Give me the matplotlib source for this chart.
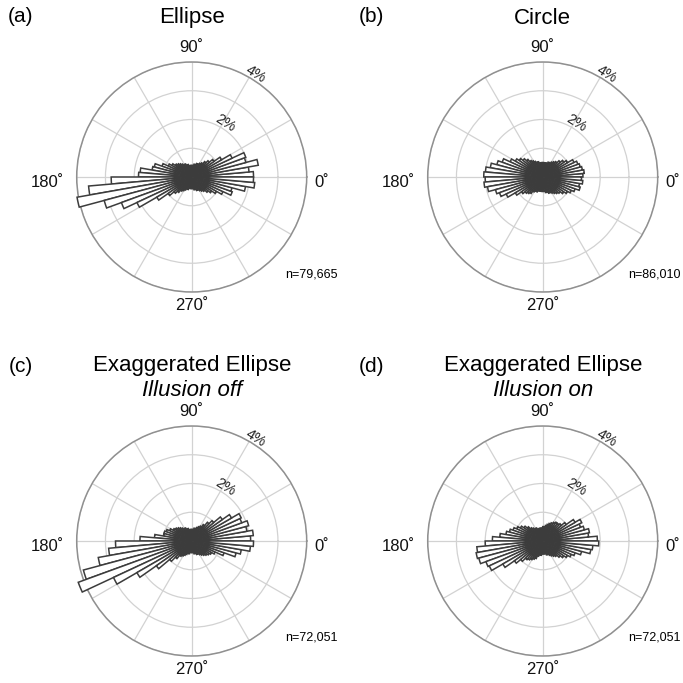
"""Rose plots of movement direction for the four stimulus conditions."""

import matplotlib
matplotlib.use('Agg')
import matplotlib.pyplot as plt
import numpy as np

plt.rcParams['font.family'] = ['Liberation Sans', 'DejaVu Sans']

# Bin centres (degrees), 5 degree bins
bin_centres = [2.5 + 5 * k for k in range(72)]

# Percentage of samples per bin (bins 2.5 .. 357.5)
ellipse = [
    2.15, 2.00, 2.35, 1.95, 2.00, 1.55, 1.20, 0.95, 0.80, 0.70, 0.60, 0.55,
    0.50, 0.50, 0.45, 0.45, 0.40, 0.40, 0.40, 0.40, 0.40, 0.45, 0.45, 0.50,
    0.50, 0.55, 0.60, 0.65, 0.70, 0.80, 0.90, 1.10, 1.35, 1.40, 1.80, 1.85,
    2.80, 3.60, 4.05, 3.15, 2.60, 2.10, 1.40, 1.00, 0.80, 0.70, 0.60, 0.55,
    0.50, 0.45, 0.45, 0.40, 0.40, 0.40, 0.40, 0.40, 0.45, 0.45, 0.50, 0.50,
    0.55, 0.60, 0.65, 0.75, 0.85, 1.00, 1.20, 1.50, 1.45, 1.90, 2.20, 2.15,
]
circle = [
    1.40, 1.45, 1.40, 1.35, 1.30, 1.20, 1.00, 0.90, 0.80, 0.70, 0.65, 0.60,
    0.55, 0.55, 0.50, 0.50, 0.50, 0.50, 0.50, 0.50, 0.50, 0.55, 0.55, 0.60,
    0.65, 0.70, 0.80, 0.90, 1.00, 1.10, 1.25, 1.50, 1.65, 1.85, 2.00, 2.05,
    2.00, 2.05, 1.95, 1.70, 1.60, 1.40, 1.10, 0.90, 0.80, 0.75, 0.70, 0.60,
    0.55, 0.55, 0.50, 0.50, 0.50, 0.50, 0.50, 0.50, 0.55, 0.55, 0.60, 0.60,
    0.65, 0.70, 0.75, 0.80, 0.90, 1.00, 1.10, 1.20, 1.35, 1.30, 1.40, 1.35,
]
exag_off = [
    2.05, 2.15, 1.95, 2.05, 1.85, 1.90, 1.60, 1.30, 1.00, 0.85, 0.70, 0.60,
    0.55, 0.50, 0.45, 0.45, 0.40, 0.40, 0.40, 0.40, 0.40, 0.45, 0.45, 0.50,
    0.50, 0.55, 0.60, 0.65, 0.70, 0.75, 0.85, 0.95, 1.00, 1.00, 1.30, 1.80,
    2.65, 2.90, 3.30, 3.90, 4.20, 3.00, 2.20, 1.50, 1.00, 0.80, 0.65, 0.60,
    0.55, 0.50, 0.45, 0.45, 0.40, 0.40, 0.40, 0.40, 0.45, 0.45, 0.50, 0.50,
    0.55, 0.60, 0.65, 0.70, 0.75, 0.80, 0.90, 1.20, 1.60, 1.75, 2.05, 2.15,
]
exag_on = [
    1.90, 1.60, 1.65, 1.50, 1.40, 1.50, 1.30, 1.00, 0.85, 0.80, 0.80, 0.75,
    0.70, 0.65, 0.60, 0.55, 0.50, 0.50, 0.45, 0.45, 0.45, 0.45, 0.45, 0.50,
    0.50, 0.55, 0.60, 0.70, 0.80, 0.90, 1.00, 1.10, 1.20, 1.30, 1.50, 1.75,
    2.00, 2.30, 2.35, 2.30, 2.10, 2.05, 1.60, 1.20, 1.00, 0.85, 0.80, 0.75,
    0.70, 0.65, 0.55, 0.50, 0.50, 0.45, 0.45, 0.45, 0.45, 0.50, 0.50, 0.55,
    0.60, 0.65, 0.70, 0.80, 0.90, 1.00, 1.10, 1.20, 1.40, 1.70, 1.75, 1.95,
]

panel_letters = ['(a)', '(b)', '(c)', '(d)']
panel_titles = ['Ellipse', 'Circle', 'Exaggerated Ellipse', 'Exaggerated Ellipse']
panel_subtitles = ['', '', 'Illusion off', 'Illusion on']
sample_sizes = ['n=79,665', 'n=86,010', 'n=72,051', 'n=72,051']
ring_values = [1, 2, 3, 4]
ring_labels = {2: '2%', 4: '4%'}
angle_labels = ['0\u02DA', '90\u02DA', '180\u02DA', '270\u02DA']

W = H = 683.0


def make_polar(fig, cx, cy, radius):
    """Add a polar axes centred on pixel (cx, cy) with the given radius."""
    rect = [(cx - radius) / W, 1 - (cy + radius) / H,
            2 * radius / W, 2 * radius / H]
    return fig.add_axes(rect, projection='polar')


def draw_rose(ax, values):
    """Draw one rose diagram."""
    theta = np.deg2rad(bin_centres)
    ax.bar(theta, values, width=np.deg2rad(5), bottom=0,
           facecolor='white', edgecolor='#3c3c3c', linewidth=1.1,
           clip_on=False, zorder=3)

    ax.set_ylim(0, 4)
    ax.set_axisbelow(True)

    # Radial rings
    ax.set_yticks(ring_values)
    ax.set_yticklabels([])
    for r, label in ring_labels.items():
        ax.text(np.deg2rad(58), r + 0.2, label, rotation=-32,
                ha='center', va='center', fontsize=10.5, color='#222222')

    # Spokes every 30 degrees
    ax.set_xticks(np.deg2rad(range(0, 360, 30)))
    ax.set_xticklabels([])

    # Angle labels on the four axes (axes fraction positions)
    label_kw = dict(transform=ax.transAxes, fontsize=12, color='#111111')
    ax.text(1.035, 0.475, angle_labels[0], ha='left', va='center', **label_kw)
    ax.text(0.5, 1.065, angle_labels[1], ha='center', va='center', **label_kw)
    ax.text(-0.055, 0.475, angle_labels[2], ha='right', va='center', **label_kw)
    ax.text(0.5, -0.057, angle_labels[3], ha='center', va='center', **label_kw)

    ax.grid(True, color='#d2d2d2', linewidth=0.9)
    ax.spines['polar'].set_color('#909090')
    ax.spines['polar'].set_linewidth(1.1)


fig = plt.figure(figsize=(6.83, 6.83), dpi=100)

centres = [(191.7, 177.0), (542.7, 177.0), (191.7, 541.0), (542.7, 541.0)]
all_values = [ellipse, circle, exag_off, exag_on]

for i, (cx, cy) in enumerate(centres):
    ax = make_polar(fig, cx, cy, 115.0)
    draw_rose(ax, all_values[i])

    # Panel letter and titles
    letter_y = 17 if i < 2 else 366
    fig.text((cx - 171) / W, 1 - letter_y / H, panel_letters[i],
             fontsize=15, ha='center', va='center')
    if panel_subtitles[i]:
        fig.text(cx / W, 1 - 366 / H, panel_titles[i],
                 fontsize=16, ha='center', va='center')
        fig.text(cx / W, 1 - 391 / H, panel_subtitles[i],
                 fontsize=16, style='italic', ha='center', va='center')
    else:
        fig.text(cx / W, 1 - 18 / H, panel_titles[i],
                 fontsize=16, ha='center', va='center')

    # Sample size, right aligned and kept inside the figure
    right_edge = min(cx + 146, W - 2)
    fig.text(right_edge / W, 1 - (cy + 97) / H, sample_sizes[i],
             fontsize=9, ha='right', va='center')

fig.savefig('out.png', dpi=100)
